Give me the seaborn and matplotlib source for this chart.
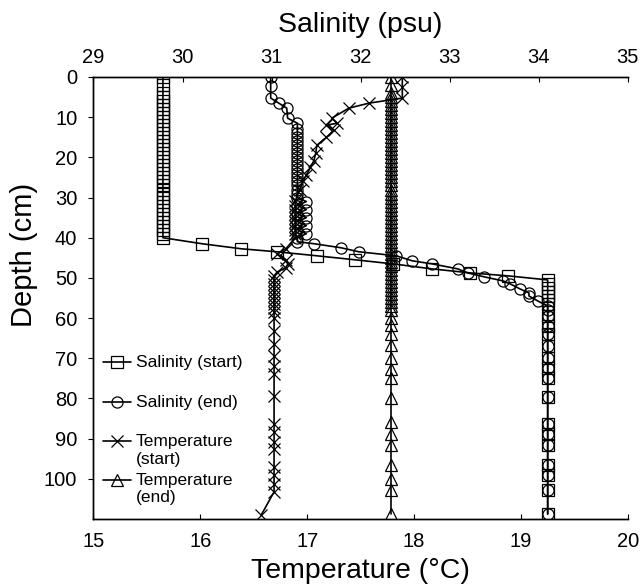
import matplotlib
matplotlib.use("Agg")
import matplotlib.pyplot as plt
import seaborn as sns
from matplotlib.lines import Line2D
from matplotlib.legend import Legend

# ---------------- data ----------------
depth_sal_start = [0, 2, 4, 5, 6, 7, 8, 9, 10, 11, 12, 13, 14, 15, 16, 17, 18, 19, 20,
                   21, 22, 23, 24, 25, 26, 27, 28, 29, 30, 31, 32, 33, 34, 35, 36, 37, 38,
                   39, 40, 41.5, 42.75, 43.5, 44.5, 45.5, 46.5, 47.75, 48.75, 49.5, 50.5,
                   51.5, 52.5, 53.5, 54.5, 55.5, 56.5, 59.5, 62, 64, 67, 70, 72.5, 75,
                   79.75, 86.25, 88.75, 91.5, 96.5, 99, 102.75, 108.75]
sal_start = [29.78, 29.78, 29.78, 29.78, 29.78, 29.78, 29.78, 29.78, 29.78, 29.78,
             29.78, 29.78, 29.78, 29.78, 29.78, 29.78, 29.78, 29.78, 29.78, 29.78,
             29.78, 29.78, 29.78, 29.78, 29.78, 29.78, 29.78, 29.78, 29.78, 29.78,
             29.78, 29.78, 29.78, 29.78, 29.78, 29.78, 29.78, 29.78, 29.78,
             30.22, 30.66, 31.06, 31.51, 31.94, 32.36, 32.80, 33.23, 33.66, 34.10,
             34.10, 34.10, 34.10, 34.10, 34.10, 34.10, 34.10, 34.10, 34.10, 34.10,
             34.10, 34.10, 34.10, 34.10, 34.10, 34.10, 34.10, 34.10, 34.10, 34.10, 34.10]

depth_sal_end = [0, 2.25, 5.25, 6.5, 7.75, 10.25, 11.5, 13, 14, 15, 16, 17, 18, 19, 20,
                 21, 22, 23, 24, 25, 26, 27, 28, 29, 30, 31, 32, 33, 34, 35, 36, 37, 38,
                 39, 40, 41, 41.5, 42.5, 43.5, 44.5, 45.75, 46.5, 47.75, 48.75, 49.75,
                 50.75, 51.5, 52.75, 53.75, 54.5, 55.75, 57, 58, 59.5, 62, 64, 67, 70,
                 72.5, 75, 79.75, 86.25, 88.75, 91.5, 96.5, 99, 102.75, 108.75]
sal_end = [30.99, 30.99, 30.99, 31.08, 31.17, 31.18, 31.29, 31.29, 31.29, 31.29,
           31.29, 31.29, 31.29, 31.29, 31.29, 31.29, 31.29, 31.29, 31.29, 31.29,
           31.29, 31.29, 31.29, 31.29, 31.29, 31.39, 31.29, 31.39, 31.29, 31.39,
           31.29, 31.39, 31.29, 31.39, 31.29, 31.29, 31.48, 31.78, 31.98, 32.40,
           32.58, 32.80, 33.09, 33.20, 33.39, 33.60, 33.68, 33.79, 33.89, 33.89,
           33.99, 34.10, 34.10, 34.10, 34.10, 34.10, 34.10, 34.10, 34.10, 34.10,
           34.10, 34.10, 34.10, 34.10, 34.10, 34.10, 34.10, 34.10]

depth_temp_start = [0, 2.5, 5.25, 6.5, 7.75, 10.25, 11.5, 12, 13.25, 15, 17, 19, 21,
                    22.5, 24.5, 26, 28, 30.75, 32, 33, 34, 35, 36, 37, 38, 39, 40,
                    42.75, 44, 45.5, 46.5, 47.5, 48.5, 49.5, 50.5, 51.5, 52.5, 53.5,
                    54.5, 55.5, 56.5, 57.5, 58.5, 60, 63.25, 66.5, 69.5, 72, 74, 79.5,
                    86.25, 88.25, 90.75, 92.5, 97, 99, 101.25, 103.25, 109]
temp_start = [17.89, 17.89, 17.89, 17.58, 17.39, 17.23, 17.28, 17.18, 17.25, 17.18,
              17.09, 17.08, 17.06, 17.03, 16.99, 16.96, 16.93, 16.89, 16.89, 16.89,
              16.89, 16.89, 16.89, 16.89, 16.89, 16.89, 16.89, 16.80, 16.72, 16.80,
              16.82, 16.80, 16.72, 16.69, 16.69, 16.69, 16.69, 16.69, 16.69, 16.69,
              16.69, 16.69, 16.69, 16.69, 16.69, 16.69, 16.69, 16.69, 16.69, 16.69,
              16.69, 16.69, 16.69, 16.69, 16.69, 16.69, 16.69, 16.69, 16.57]

depth_temp_end = [0, 2, 4, 5, 6, 7, 8, 9, 10, 11, 12, 13, 14, 15, 16, 17, 18, 19, 20,
                  21, 22, 23, 24, 25, 26, 27, 28, 29, 30, 31, 32, 33, 34, 35, 36, 37, 38,
                  39, 40, 41, 42, 43, 44, 45, 46, 47, 48, 49, 50, 51, 52, 53, 54, 55, 56,
                  57, 58, 60, 61.75, 64, 66.75, 70, 72.75, 75, 80, 85.75, 88.75, 91.5,
                  96.5, 100, 102.75, 108.75]
temp_end = [17.78, 17.78, 17.78, 17.78, 17.78, 17.78, 17.78, 17.78, 17.78, 17.78,
            17.78, 17.78, 17.78, 17.78, 17.78, 17.78, 17.78, 17.78, 17.78, 17.78,
            17.78, 17.78, 17.78, 17.78, 17.78, 17.78, 17.78, 17.78, 17.78, 17.78,
            17.78, 17.78, 17.78, 17.78, 17.78, 17.78, 17.78, 17.78, 17.78, 17.78,
            17.78, 17.78, 17.78, 17.78, 17.78, 17.78, 17.78, 17.78, 17.78, 17.78,
            17.78, 17.78, 17.78, 17.78, 17.78, 17.78, 17.78, 17.78, 17.78, 17.78,
            17.78, 17.78, 17.78, 17.78, 17.78, 17.78, 17.78, 17.78, 17.78, 17.78,
            17.78, 17.78]

series_labels = ["Salinity (start)", "Salinity (end)", "Temperature\n(start)", "Temperature\n(end)"]
depth_ticks = [0, 10, 20, 30, 40, 50, 60, 70, 80, 90, 100]
temp_ticks = [15, 16, 17, 18, 19, 20]
sal_ticks = [29, 30, 31, 32, 33, 34, 35]

# ---------------- plot ----------------
sns.set_style("ticks")
plt.rcParams["font.family"] = ["Liberation Sans", "DejaVu Sans"]
plt.rcParams["text.color"] = "black"
plt.rcParams["axes.labelcolor"] = "black"
plt.rcParams["xtick.color"] = "black"
plt.rcParams["ytick.color"] = "black"

fig = plt.figure(figsize=(6.4, 5.85), dpi=100)
ax = fig.add_axes([0.146, 0.1128, 0.835, 0.7556])
ax2 = ax.twiny()

common = dict(color="black", linewidth=1.2, markersize=8, markerfacecolor="none",
              markeredgecolor="black", markeredgewidth=0.9)

sns.lineplot(x=sal_start, y=depth_sal_start, sort=False, estimator=None, ax=ax2,
             marker="s", **common)
sns.lineplot(x=sal_end, y=depth_sal_end, sort=False, estimator=None, ax=ax2,
             marker="o", **common)
sns.lineplot(x=temp_start, y=depth_temp_start, sort=False, estimator=None, ax=ax,
             marker="x", **common)
sns.lineplot(x=temp_end, y=depth_temp_end, sort=False, estimator=None, ax=ax,
             marker="^", **common)

ax.set_ylim(110, 0)
ax2.set_ylim(110, 0)
ax.set_xlim(15, 20)
ax2.set_xlim(29, 35)
ax.set_yticks(depth_ticks)
ax.set_xticks(temp_ticks)
ax2.set_xticks(sal_ticks)

ax.set_xlabel("Temperature (°C)", fontsize=20.5, labelpad=5.5, color="black")
ax.set_ylabel("Depth (cm)", fontsize=21, color="black")
ax.yaxis.set_label_coords(-0.104, 0.597)
ax2.set_xlabel("Salinity (psu)", fontsize=20.5, labelpad=11, color="black")

ax.tick_params(axis="x", direction="in", length=3.6, width=0.8, labelsize=14.5, pad=9,
               colors="black")
ax.tick_params(axis="y", direction="out", length=3.6, width=0.8, labelsize=14.5, pad=8,
               colors="black")
ax2.tick_params(axis="x", direction="in", length=3.6, width=0.8, labelsize=14.5, pad=7.5,
                colors="black")

for a in (ax, ax2):
    a.spines["right"].set_visible(False)
    for s in a.spines.values():
        s.set_linewidth(1.0)
        s.set_color("black")

# one legend per entry so that each entry sits at the same pitch as the original
markers = ["s", "o", "x", "^"]
entry_tops = [0.371, 0.281, 0.192, 0.104]   # axes fraction, top of each entry
for m, lab, top in zip(markers, series_labels, entry_tops):
    h = Line2D([0], [0], marker=m, **common)
    leg = Legend(ax, [h], [lab], loc="upper left", bbox_to_anchor=(0.017, top),
                 frameon=False, fontsize=12.5, handlelength=1.65, handletextpad=0.25,
                 borderpad=0, borderaxespad=0, handleheight=1.15, labelcolor="black")
    try:
        for col in leg._legend_handle_box.get_children():
            for row in col.get_children():
                row.align = "top"
    except Exception:
        pass
    ax.add_artist(leg)

fig.savefig("out.png", dpi=100)
